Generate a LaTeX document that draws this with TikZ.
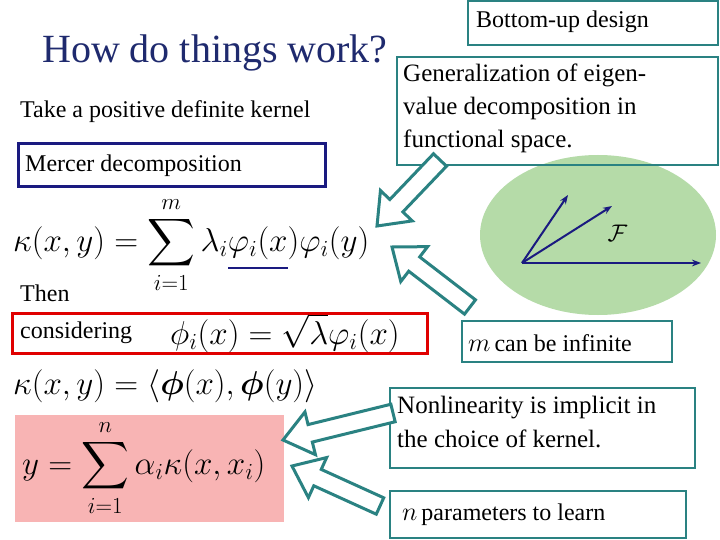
\documentclass[tikz,border=0pt]{standalone}
\usepackage{amsmath}
\usepackage{graphicx}
\usepackage{fontspec}
\setmainfont{LiberationSerif}[Extension=.ttf, UprightFont=*-Regular, BoldFont=*-Bold, ItalicFont=*-Italic]
\usetikzlibrary{calc,arrows.meta}
\definecolor{teal1}{HTML}{2A8282}
\definecolor{navy1}{HTML}{1A1A80}
\definecolor{title1}{HTML}{1F2A6E}
\definecolor{red1}{HTML}{E00000}
\definecolor{pink1}{HTML}{F8B4B4}
\definecolor{green1}{HTML}{B5DBA8}
\newcommand\blkarrow[2]{%
 \path let \p1=(#1), \p2=(#2), \n1={atan2(\y2-\y1,\x2-\x1)}, \n2={veclen(\x2-\x1,\y2-\y1)} in
  [draw=teal1, line width=3pt, fill=white, line join=miter]
  (\p1) ++(\n1+90:9pt) -- ++(\n1:\n2-28pt) -- ++(\n1+90:13pt) -- (\p2) -- ($(\p1)+(\n1:\n2-28pt)+(\n1-90:22pt)$) -- ++(\n1+90:13pt) -- ($(\p1)+(\n1-90:9pt)$) -- cycle;}
\newcommand\mymath[1]{\scalebox{1.33}{#1}}
\begin{document}
\begin{tikzpicture}[x=1pt,y=-1pt,
 txt/.style={font=\fontsize{24}{28}\selectfont, anchor=west, inner sep=0pt},
 mth/.style={font=\fontsize{24}{28}\selectfont, anchor=west, inner sep=0pt}]
\useasboundingbox (0,0) rectangle (720,540);
\fill[white] (0,0) rectangle (720,540);
% ellipse
\fill[green1] (598,235) ellipse[x radius=118, y radius=80];
\coordinate (o) at (522,263);
\coordinate (e1) at (568,195);
\coordinate (e2) at (612,206);
\coordinate (e3) at (701,263);
\foreach \e in {e1,e2,e3} \draw[navy1, line width=2pt, -{Stealth[length=9pt]}] (o) -- (\e);
\node[anchor=west] (F) at (604,233) {\scalebox{2.4}{$\mathcal{F}$}};
% top boxes
\draw[teal1, line width=2.5pt] (468,1) rectangle (718,45);
\node[txt] (bu) at (476,22) {Bottom-up design};
\node[anchor=west, text=title1, inner sep=0pt] (title) at (42,53) {\fontsize{40}{44}\selectfont How do things work?};
\draw[teal1, line width=2.5pt] (397,57) rectangle (718,165);
\node[anchor=north west, align=left, inner sep=0pt, font=\fontsize{25}{33}\selectfont] (gen) at (403,64) {Generalization of eigen-\\value decomposition in\\functional space.};
\node[txt] (take) at (20,112) {Take a positive definite kernel};
\draw[navy1, line width=3pt] (18,144) rectangle (325,187);
\node[txt] (mer) at (25,166) {Mercer decomposition};
% equation
\node[mth] (eq1) at (13,245) {\mymath{$\displaystyle \kappa(x,y)=\sum_{i=1}^{m}\lambda_i\varphi_i(x)\varphi_i(y)$}};
\draw[navy1, line width=2.5pt] (228,268) -- (288,268);
\node[txt] (then) at (20,293) {Then};
\node[txt] (cons) at (20,333) {considering};
\draw[red1, line width=3pt] (12,313) rectangle (427,353);
\node[mth] (eq2) at (170,333) {\mymath{$\phi_i(x)=\sqrt{\lambda}\varphi_i(x)$}};
% m box
\draw[teal1, line width=2.5pt] (462,321) rectangle (672,362);
\node[txt] (minf) at (468,343) {\scalebox{1.05}{$m$}\,can be infinite};
% kernel
\node[mth] (eq3) at (13,386) {\mymath{$\kappa(x,y)=\langle\boldsymbol{\phi}(x),\boldsymbol{\phi}(y)\rangle$}};
\fill[pink1] (15,415) rectangle (284,522);
\node[mth] (eq4) at (22,468) {\mymath{$\displaystyle y=\sum_{i=1}^{n}\alpha_i\kappa(x,x_i)$}};
\draw[teal1, line width=2.5pt] (390,388) rectangle (695,468);
\node[anchor=north west, align=left, inner sep=0pt, font=\fontsize{25}{34}\selectfont] (nonl) at (397,396) {Nonlinearity is implicit in\\the choice of kernel.};
\draw[teal1, line width=2.5pt] (390,491) rectangle (686,538);
\node[txt] (npar) at (402,515) {\scalebox{1.05}{$n$}\,parameters to learn};
% block arrows
\coordinate (a1t) at (440,160); \coordinate (a1h) at (377,226);
\coordinate (a2t) at (470,307); \coordinate (a2h) at (392,247);
\coordinate (a3t) at (393,413); \coordinate (a3h) at (283,440);
\coordinate (a4t) at (380,506); \coordinate (a4h) at (292,466);
\blkarrow{a1t}{a1h}
\blkarrow{a2t}{a2h}
\blkarrow{a3t}{a3h}
\blkarrow{a4t}{a4h}
\end{tikzpicture}
\end{document}
